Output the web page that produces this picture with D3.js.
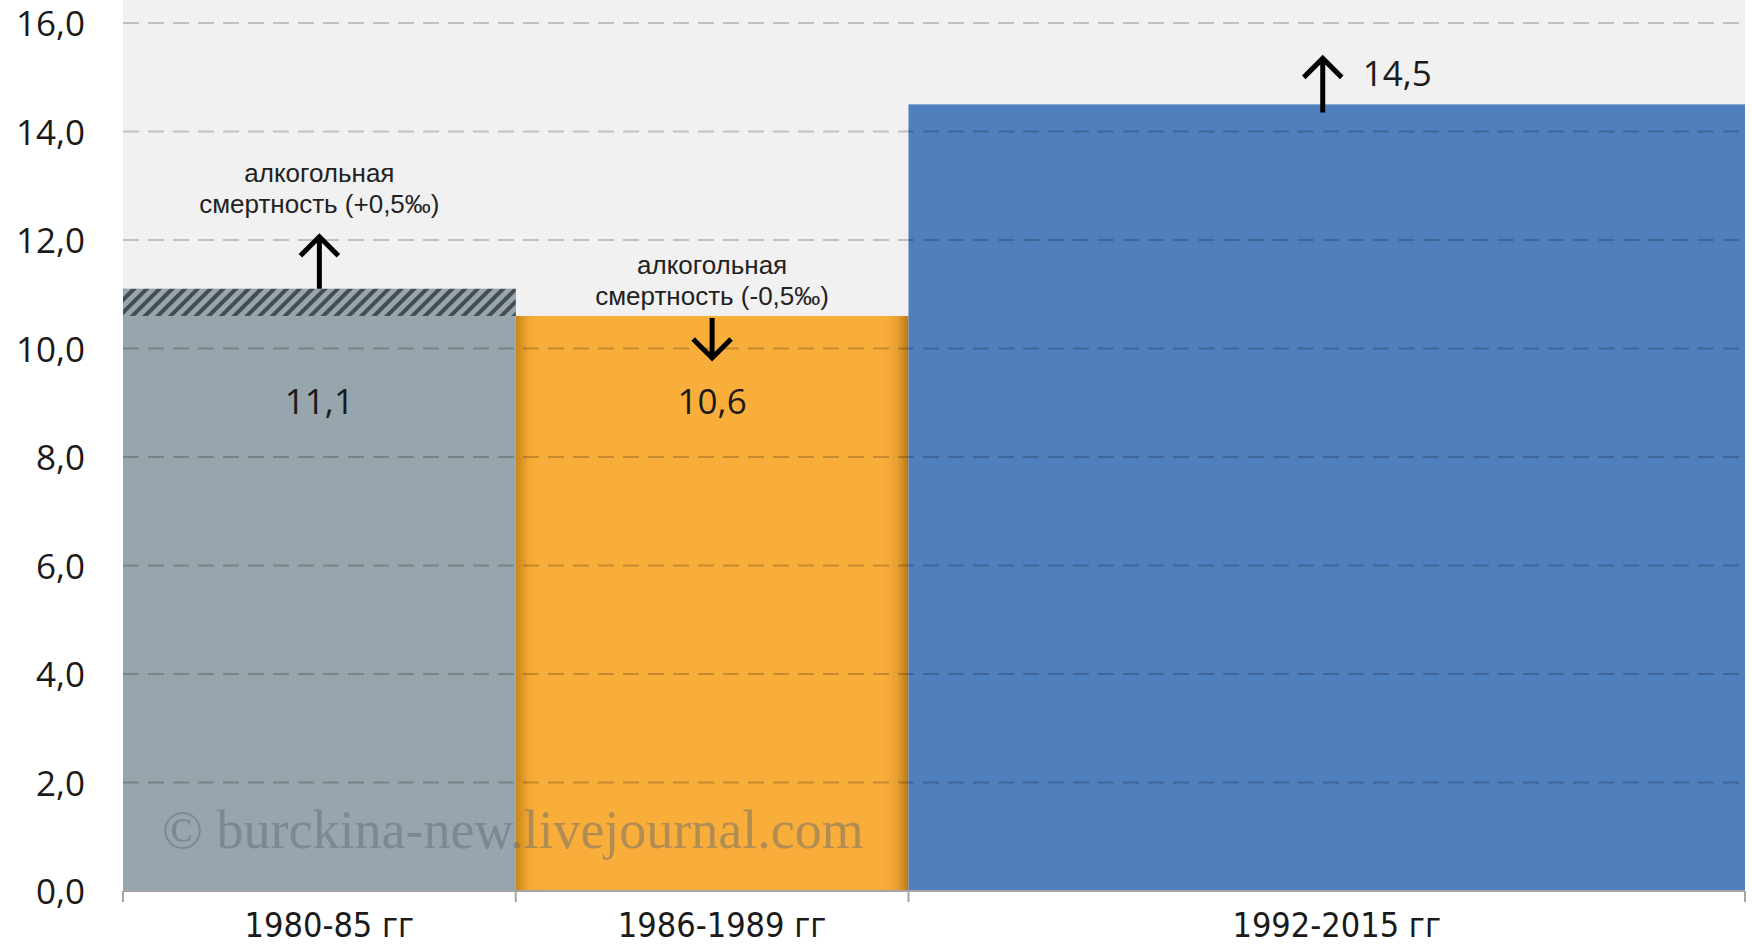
<!DOCTYPE html>
<html>
<head>
<meta charset="utf-8">
<script src="https://cdn.jsdelivr.net/npm/d3@7"></script>
<style>
  body { margin: 0; background: #fff; }
  svg text { font-family: "Open Sans", "Noto Sans", sans-serif; }
</style>
</head>
<body>
<div id="graphic"></div>
<script>
var periods = ["1980-85 гг", "1986-1989 гг", "1992-2015 гг"];
var rates = [11.1, 10.6, 14.5];
var alcoholShift = [0.5, -0.5, null];
var alcoholNotes = [["алкогольная", "смертность (+0,5‰)"], ["алкогольная", "смертность (-0,5‰)"], null];
var yTicks = [0, 2, 4, 6, 8, 10, 12, 14, 16];
var periodSpan = [1, 1, 2.13];

var width = 1752;
var height = 944;
var plotLeft = 123;
var plotRight = 1745;
var plotTop = 23;
var plotBottom = 891;

var svg = d3.select("#graphic").append("svg")
  .attr("width", width)
  .attr("height", height);

var defs = svg.append("defs");

var hatch = defs.append("pattern")
  .attr("id", "hatch")
  .attr("patternUnits", "userSpaceOnUse")
  .attr("width", 9)
  .attr("height", 9)
  .attr("patternTransform", "rotate(45)");
hatch.append("rect").attr("width", 9).attr("height", 9).attr("fill", "#97a5ad");
hatch.append("rect").attr("width", 4).attr("height", 9).attr("fill", "#454c52");

var orangeGrad = defs.append("linearGradient")
  .attr("id", "orangeGrad")
  .attr("x1", "0%").attr("x2", "100%");
[[0, "#c98419"], [0.035, "#f4a935"], [0.06, "#f9ae3b"], [0.94, "#f9ae3b"], [0.97, "#eaa032"], [1, "#b97a1a"]]
  .forEach(s => orangeGrad.append("stop").attr("offset", s[0]).attr("stop-color", s[1]));

var cumulative = [0];
periodSpan.forEach((s, i) => cumulative.push(cumulative[i] + s));

var xScale = d3.scaleLinear()
  .domain([0, cumulative[cumulative.length - 1]])
  .range([plotLeft, plotRight]);

var yScale = d3.scaleLinear()
  .domain([0, 16])
  .range([plotBottom, plotTop]);

var data = periods.map((p, i) => ({
  period: p,
  rate: rates[i],
  shift: alcoholShift[i],
  note: alcoholNotes[i],
  x0: cumulative[i],
  x1: cumulative[i + 1]
}));

var fills = ["#97a5ad", "url(#orangeGrad)", "#4f80bd"];
var fmt = v => d3.format(".1f")(v).replace(".", ",");
var mid = d => xScale((d.x0 + d.x1) / 2);

// plot background
svg.append("rect")
  .attr("x", plotLeft)
  .attr("y", 0)
  .attr("width", plotRight - plotLeft)
  .attr("height", plotBottom)
  .attr("fill", "#f1f1f1");

// bars
svg.append("g")
  .selectAll("rect")
  .data(data)
  .join("rect")
  .attr("x", d => xScale(d.x0))
  .attr("y", d => yScale(d.rate))
  .attr("width", d => xScale(d.x1) - xScale(d.x0))
  .attr("height", d => yScale(0) - yScale(d.rate))
  .attr("fill", (d, i) => fills[i]);

// hatched alcohol part for positive shift
svg.append("g")
  .selectAll("rect")
  .data(data.filter(d => d.shift > 0))
  .join("rect")
  .attr("x", d => xScale(d.x0))
  .attr("y", d => yScale(d.rate))
  .attr("width", d => xScale(d.x1) - xScale(d.x0))
  .attr("height", d => yScale(d.rate - d.shift) - yScale(d.rate))
  .attr("fill", "url(#hatch)");

// gridlines
svg.append("g")
  .selectAll("line")
  .data(yTicks.filter(t => t > 0))
  .join("line")
  .attr("x1", plotLeft)
  .attr("x2", plotRight)
  .attr("y1", d => yScale(d))
  .attr("y2", d => yScale(d))
  .attr("stroke", "#000")
  .attr("stroke-opacity", 0.2)
  .attr("stroke-width", 2)
  .attr("stroke-dasharray", "16,9");

// watermark
svg.append("text")
  .attr("x", 162)
  .attr("y", 848)
  .style("font-family", "'Liberation Serif', 'DejaVu Serif', serif")
  .attr("font-size", 54)
  .attr("fill", "#5b6770")
  .attr("fill-opacity", 0.45)
  .text("© burckina-new.livejournal.com");

// y axis
var yAxis = svg.append("g")
  .attr("transform", "translate(" + (plotLeft - 38) + ",0)")
  .call(d3.axisLeft(yScale).tickValues(yTicks).tickSize(0).tickPadding(0)
    .tickFormat(fmt));
yAxis.select(".domain").remove();
yAxis.selectAll("text")
  .attr("font-size", 35)
  .attr("fill", "#1a1a1a")
  .attr("dy", "0.36em");

// x axis
var xAxis = svg.append("g")
  .attr("transform", "translate(0," + plotBottom + ")");
xAxis.append("line")
  .attr("x1", plotLeft).attr("x2", plotRight)
  .attr("stroke", "#a5a5a5").attr("stroke-width", 2);
xAxis.selectAll("line.tick")
  .data(cumulative)
  .join("line")
  .attr("class", "tick")
  .attr("x1", d => xScale(d)).attr("x2", d => xScale(d))
  .attr("y1", 0).attr("y2", 11)
  .attr("stroke", "#a5a5a5").attr("stroke-width", 2);
xAxis.selectAll("text")
  .data(data)
  .join("text")
  .attr("x", d => mid(d) + 10)
  .attr("y", 46)
  .attr("text-anchor", "middle")
  .style("font-family", "'Liberation Sans Narrow', 'DejaVu Sans Condensed', sans-serif")
  .attr("font-size", 34)
  .attr("fill", "#1a1a1a")
  .text(d => d.period);

// value labels
svg.append("g")
  .selectAll("text")
  .data(data.filter(d => d.shift !== null))
  .join("text")
  .attr("x", mid)
  .attr("y", 414)
  .attr("text-anchor", "middle")
  .attr("font-size", 35)
  .attr("fill", "#1a1a1a")
  .text(d => fmt(d.rate));

// arrows
function arrowPath(cx, y0, y1) {
  var dir = y1 < y0 ? 1 : -1;
  return "M" + cx + "," + y0 + "L" + cx + "," + y1 +
    "M" + (cx - 19) + "," + (y1 + dir * 19) + "L" + cx + "," + y1 + "L" + (cx + 19) + "," + (y1 + dir * 19);
}

var arrows = [
  { x: mid(data[0]), from: yScale(data[0].rate), to: yScale(data[0].rate) - 52 },
  { x: mid(data[1]), from: yScale(data[1].rate) + 2, to: yScale(data[1].rate) + 42 },
  { x: mid(data[2]) - 4, from: yScale(data[2].rate) + 8, to: yScale(data[2].rate) - 46 }
];

svg.append("g")
  .selectAll("path")
  .data(arrows)
  .join("path")
  .attr("d", d => arrowPath(d.x, d.from, d.to))
  .attr("fill", "none")
  .attr("stroke", "#000")
  .attr("stroke-width", 5);

// top label for last period
svg.append("text")
  .attr("x", arrows[2].x + 40)
  .attr("y", yScale(data[2].rate) - 18)
  .attr("font-size", 35)
  .attr("fill", "#1a1a1a")
  .text(fmt(data[2].rate));

// alcohol notes
var noteY = [182, 274];
data.filter(d => d.note).forEach((d, i) => {
  svg.append("g")
    .selectAll("text")
    .data(d.note)
    .join("text")
    .attr("x", mid(d))
    .attr("y", (line, j) => noteY[i] + j * 31)
    .attr("text-anchor", "middle")
    .style("font-family", "'Liberation Sans', Arial, sans-serif")
    .attr("font-size", 26)
    .attr("fill", "#222")
    .text(line => line);
});
</script>
</body>
</html>
